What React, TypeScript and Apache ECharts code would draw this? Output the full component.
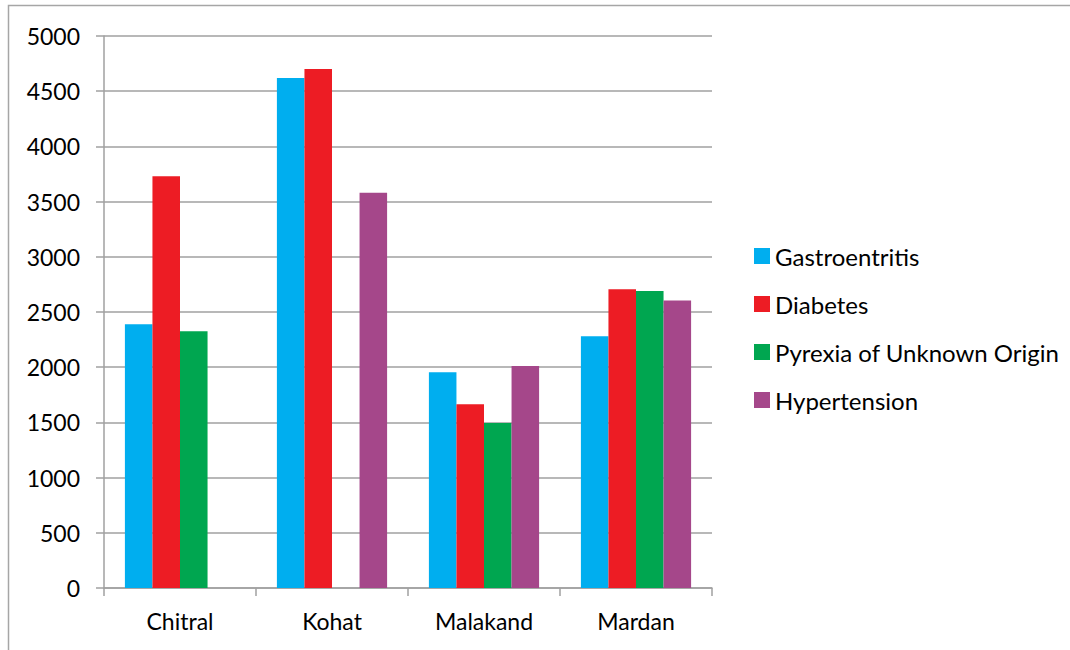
import React, { useEffect, useRef } from "react";
import * as echarts from "echarts";

const categories = ["Chitral", "Kohat", "Malakand", "Mardan"];
const seriesNames = ["Gastroentritis", "Diabetes", "Pyrexia of Unknown Origin", "Hypertension"];
const gastroentritis = [2390, 4620, 1955, 2280];
const diabetes = [3730, 4700, 1665, 2705];
const pyrexia = [2325, null, 1495, 2690];
const hypertension = [null, 3580, 2010, 2605];
const colors = ["#00aeef", "#ed1c24", "#00a650", "#a5478a"];
const yTicks = { min: 0, max: 5000, interval: 500 };

export default function App() {
  const ref = useRef<HTMLDivElement>(null);
  useEffect(() => {
    if (!ref.current) return;
    const chart = echarts.init(ref.current, null, { renderer: "svg" });
    const values = [gastroentritis, diabetes, pyrexia, hypertension];
    const font = "Lato, 'Open Sans', sans-serif";
    chart.setOption({
      animation: false,
      backgroundColor: "#ffffff",
      textStyle: { fontFamily: font },
      graphic: [
        {
          type: "rect",
          shape: { x: 8.5, y: 5.5, width: 1100, height: 700 },
          style: { fill: "none", stroke: "#a6a6a6", lineWidth: 1.5 },
          silent: true,
        },
      ],
      grid: { left: 104, right: 358, top: 36, bottom: 62, containLabel: false },
      legend: {
        orient: "vertical",
        left: 749,
        top: 239,
        itemWidth: 16,
        itemHeight: 16,
        itemGap: 24,
        icon: "rect",
        textStyle: { fontSize: 24, color: "#000", fontFamily: font, lineHeight: 20 },
        data: seriesNames,
      },
      xAxis: {
        type: "category",
        data: categories,
        axisLine: { lineStyle: { color: "#a0a0a0", width: 1.5 } },
        axisTick: { show: true, length: 8, lineStyle: { color: "#a0a0a0", width: 1.5 } },
        axisLabel: { fontSize: 23, color: "#000", margin: 21, fontFamily: font },
      },
      yAxis: {
        type: "value",
        min: yTicks.min,
        max: yTicks.max,
        interval: yTicks.interval,
        axisLine: { show: true, lineStyle: { color: "#a0a0a0", width: 1.5 } },
        axisTick: { show: true, length: 8, lineStyle: { color: "#a0a0a0", width: 1.5 } },
        axisLabel: {
          fontSize: 23,
          color: "#000",
          margin: 24,
          fontFamily: font,
          formatter: (v: number) => String(v),
        },
        splitLine: { lineStyle: { color: "#a0a0a0", width: 1.5 } },
      },
      series: seriesNames.map((name, i) => ({
        name,
        type: "bar",
        data: values[i].map((v) => (v === null ? "-" : v)),
        itemStyle: { color: colors[i] },
        barGap: "0%",
        barCategoryGap: "27.5%",
      })),
    });
    return () => chart.dispose();
  }, []);
  return (
    <div
      ref={ref}
      style={{ position: "absolute", left: 0, top: 0, width: 1070, height: 650 }}
    />
  );
}
